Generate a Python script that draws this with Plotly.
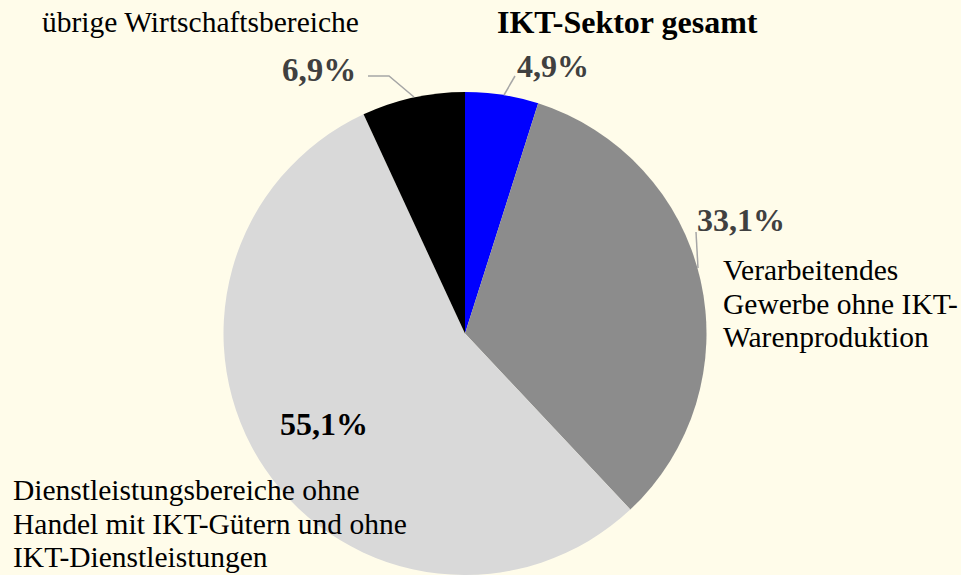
import plotly.graph_objects as go

categories = [
    "IKT-Sektor gesamt",
    "Verarbeitendes Gewerbe ohne IKT-Warenproduktion",
    "Dienstleistungsbereiche ohne Handel mit IKT-Gütern und ohne IKT-Dienstleistungen",
    "übrige Wirtschaftsbereiche",
]
label_lines_manufacturing = ["Verarbeitendes", "Gewerbe ohne IKT-", "Warenproduktion"]
label_lines_services = ["Dienstleistungsbereiche ohne", "Handel mit IKT-Gütern und ohne", "IKT-Dienstleistungen"]
values = [4.9, 33.1, 55.1, 6.9]
colors = ["#0000ff", "#8c8c8c", "#d9d9d9", "#000000"]
pct_labels = [f"{v:.1f}%".replace(".", ",") for v in values]

W, H = 961, 575
BG = "#fffcea"
FONT = "Liberation Serif, Times New Roman, serif"

fig = go.Figure(go.Pie(
    labels=categories, values=values, sort=False, direction="clockwise", rotation=0,
    marker=dict(colors=colors, line=dict(width=0)),
    textinfo="none", hoverinfo="label+percent", showlegend=False,
    domain=dict(x=[(465 - 242) / W, (465 + 242) / W], y=[0, 483 / H]),
))

def px(x):
    return x / W

def py(y):
    return 1 - y / H

ann = []
def add(text, x, y, size, color="#000000", bold=False, xanchor="center"):
    t = f"<b>{text}</b>" if bold else text
    ann.append(dict(text=t, x=px(x), y=py(y), xref="paper", yref="paper",
                    xanchor=xanchor, yanchor="middle", showarrow=False,
                    font=dict(family=FONT, size=size, color=color)))

add(categories[0], 627, 22, 32, bold=True)
add(pct_labels[0], 553, 66, 32, color="#404040", bold=True)
add(categories[3], 200, 22, 29.5)
add(pct_labels[3], 319, 70, 33, color="#404040", bold=True)
add(pct_labels[1], 741, 220, 32, color="#404040", bold=True)
for i, line in enumerate(label_lines_manufacturing):
    add(line, 721, 270 + i * 33.5, 29.5, xanchor="left")
add(pct_labels[2], 324, 424, 32, bold=True)
for i, line in enumerate(label_lines_services):
    add(line, 11, 490 + i * 33.5, 29.5, xanchor="left")

line_style = dict(color="#a6a6a6", width=1.5)
shapes = [
    dict(type="path", xref="paper", yref="paper",
         path=f"M {px(368)} {py(76)} L {px(389)} {py(76)} L {px(414)} {py(97)}", line=line_style),
    dict(type="line", xref="paper", yref="paper", x0=px(504), y0=py(95), x1=px(515), y1=py(76), line=line_style),
    dict(type="line", xref="paper", yref="paper", x0=px(696), y0=py(232), x1=px(698), y1=py(268), line=line_style),
]

fig.update_layout(
    width=W, height=H, margin=dict(l=0, r=0, t=0, b=0),
    paper_bgcolor=BG, plot_bgcolor=BG,
    annotations=ann, shapes=shapes,
)

fig.write_html("out.html", config={"displayModeBar": False},
               post_script=f"document.body.style.margin='0';document.body.style.background='{BG}';")
